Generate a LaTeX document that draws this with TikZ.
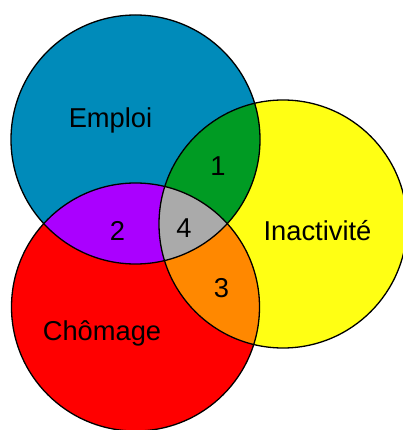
\documentclass[tikz,border=0pt]{standalone}
\usepackage{fontspec}
\setmainfont{Liberation Sans}
\definecolor{cblue}{RGB}{0,139,186}
\definecolor{cgreen}{RGB}{0,155,35}
\definecolor{cyellow}{RGB}{255,255,20}
\definecolor{cred}{RGB}{255,0,0}
\definecolor{cpurple}{RGB}{170,0,255}
\definecolor{cgrey}{RGB}{170,170,170}
\definecolor{corange}{RGB}{255,136,0}
\tikzset{
  lbl/.style={anchor=base, inner sep=0pt, font=\fontsize{27.3}{31}\selectfont},
  rim/.style={draw=black, line width=1.3pt}
}
\begin{document}
\begin{tikzpicture}[x=1pt,y=-1pt]
\useasboundingbox (0,0) rectangle (403,430);
\def\cE{(135.5,139.5) circle[radius=124.5]}
\def\cI{(283,224) circle[radius=124]}
\def\cC{(135.5,307) circle[radius=124]}
\fill[cblue] \cE;
\fill[cyellow] \cI;
\fill[cred] \cC;
\begin{scope}
  \clip \cE;
  \fill[cgreen] \cI;
  \fill[cpurple] \cC;
\end{scope}
\begin{scope}
  \clip \cI;
  \fill[corange] \cC;
\end{scope}
\begin{scope}
  \clip \cE; \clip \cI;
  \fill[cgrey] \cC;
\end{scope}
\draw[rim] \cE;
\draw[rim] \cI;
\draw[rim] \cC;
\node[lbl] (emploi) at (110.5,128) {Emploi};
\node[lbl] (inact) at (317.5,240) {Inactivité};
\node[lbl] (chom) at (102,340) {Chômage};
\node[lbl] (n1) at (218,176) {1};
\node[lbl] (n2) at (117.5,240) {2};
\node[lbl] (n4) at (184,237) {4};
\node[lbl] (n3) at (221.5,297) {3};
\end{tikzpicture}
\end{document}
